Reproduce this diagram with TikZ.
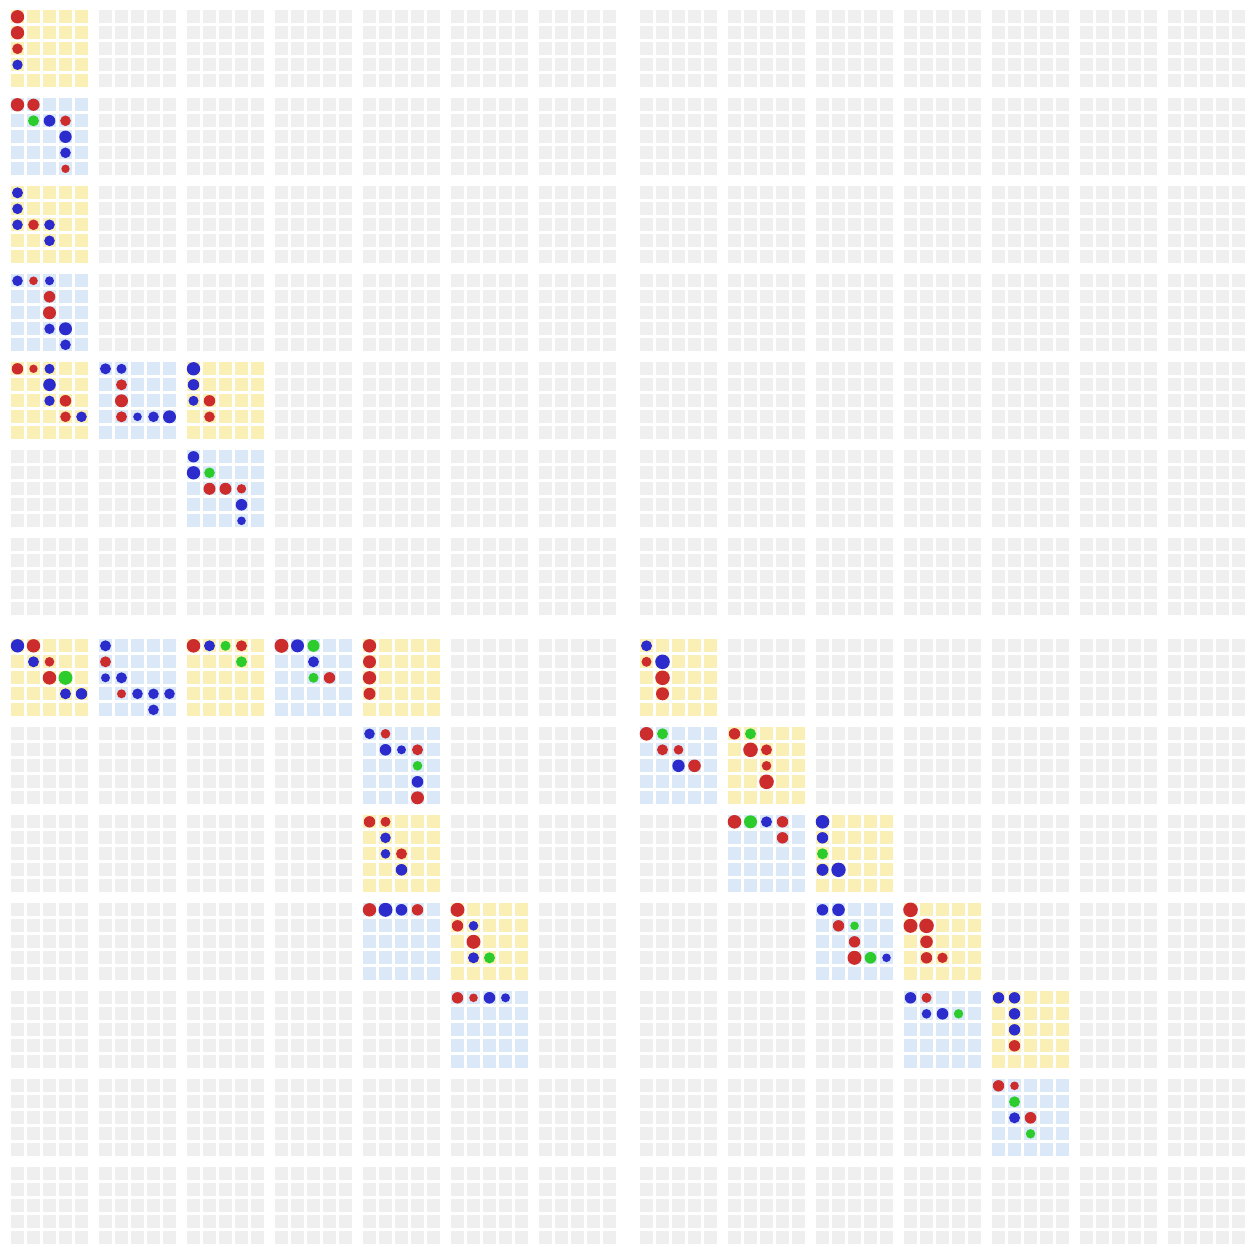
\documentclass[tikz,border=0pt]{standalone}
\usepackage{tikz}
\definecolor{gcell}{RGB}{239,239,239}
\definecolor{ycell}{RGB}{250,240,182}
\definecolor{bcell}{RGB}{218,232,248}
\definecolor{R}{RGB}{204,44,44}
\definecolor{B}{RGB}{44,44,204}
\definecolor{G}{RGB}{44,204,44}
\tikzset{
  graycell/.style={fill=gcell},
  yellowcell/.style={fill=ycell},
  bluecell/.style={fill=bcell},
}
\newcommand\blockorigin[2]{%
  \pgfmathsetmacro\bx{11+88*#2+13*(#2>6)}%
  \pgfmathsetmacro\by{10.3+88*#1+13*(#1>6)}%
}
\newcommand\mkcells[3]{%
  \blockorigin{#1}{#2}%
  \foreach \ci in {0,...,4}{\foreach \cj in {0,...,4}{\path[#3] (\bx+16*\ci,\by+16*\cj) rectangle ++(13,13);}}%
}
\newcommand\mkdots[3]{%
  \blockorigin{#1}{#2}%
  \foreach \di/\dj/\dcol/\drad in {#3}{\fill[\dcol] (\bx+16*\di+6.5,\by+16*\dj+6.5) circle[radius=\drad*0.5pt];}%
}
\newcommand\yblock[3]{\mkcells{#1}{#2}{yellowcell}\mkdots{#1}{#2}{#3}}
\newcommand\bblock[3]{\mkcells{#1}{#2}{bluecell}\mkdots{#1}{#2}{#3}}
\begin{document}
\begin{tikzpicture}[x=0.5pt,y=-0.5pt]
\fill[white] (0,0) rectangle (1256,1256);
\useasboundingbox (0,0) rectangle (1256,1256);
\foreach \rr in {0,...,13}{\foreach \cc in {0,...,13}{\mkcells{\rr}{\cc}{graycell}}}
% left column blocks
\yblock{0}{0}{0/0/R/6.7, 0/1/R/6.7, 0/2/R/5.3, 0/3/B/5.2}
\bblock{1}{0}{0/0/R/6.7, 1/0/R/6.1, 1/1/G/5.5, 2/1/B/5.8, 3/1/R/5.3, 3/2/B/6.2, 3/3/B/5.3, 3/4/R/4.2}
\yblock{2}{0}{0/0/B/5.5, 0/1/B/5.3, 0/2/B/5.3, 1/2/R/5.3, 2/2/B/5.3, 2/3/B/5.3}
\bblock{3}{0}{0/0/B/5.3, 1/0/R/4.3, 2/0/B/4.5, 2/1/R/5.8, 2/2/R/6.5, 2/3/B/5.2, 3/3/B/6.5, 3/4/B/5.3}
\yblock{4}{0}{0/0/R/5.7, 1/0/R/4.2, 2/0/B/5.0, 2/1/B/6.3, 2/2/B/5.2, 3/2/R/5.8, 3/3/R/5.3, 4/3/B/5.3}
\bblock{4}{1}{0/0/B/5.5, 1/0/B/5.0, 1/1/R/5.5, 1/2/R/6.5, 1/3/R/5.5, 2/3/B/4.3, 3/3/B/5.3, 4/3/B/6.5}
\yblock{4}{2}{0/0/B/6.7, 0/1/B/5.7, 0/2/B/5.0, 1/2/R/5.7, 1/3/R/5.3}
\bblock{5}{2}{0/0/B/5.7, 0/1/B/6.7, 1/1/G/5.3, 1/2/R/6.0, 2/2/R/6.0, 3/2/R/4.7, 3/3/B/5.8, 3/4/B/4.3}
% lower left
\yblock{7}{0}{0/0/B/6.7, 1/0/R/6.7, 1/1/B/5.5, 2/1/R/4.8, 2/2/R/6.8, 3/2/G/7.0, 3/3/B/5.5, 4/3/B/5.7}
\bblock{7}{1}{0/0/B/5.5, 0/1/R/5.5, 0/2/B/4.5, 1/2/B/5.5, 1/3/R/4.5, 2/3/B/5.3, 3/3/B/5.3, 4/3/B/5.3, 3/4/B/5.3}
\yblock{7}{2}{0/0/R/6.8, 1/0/B/5.5, 2/0/G/5.0, 3/0/R/5.5, 3/1/G/5.5}
\bblock{7}{3}{0/0/R/7.0, 1/0/B/6.5, 2/0/G/6.0, 2/1/B/5.5, 2/2/G/5.0, 3/2/R/5.7}
\yblock{7}{4}{0/0/R/6.7, 0/1/R/6.5, 0/2/R/6.7, 0/3/R/6.0}
\bblock{8}{4}{0/0/B/5.3, 1/0/R/4.8, 1/1/B/5.8, 2/1/B/4.5, 3/1/R/5.5, 3/2/G/4.8, 3/3/B/5.8, 3/4/R/6.5}
\yblock{9}{4}{0/0/R/5.7, 1/0/R/5.0, 1/1/B/5.3, 1/2/B/4.8, 2/2/R/5.5, 2/3/B/5.8}
\bblock{10}{4}{0/0/R/6.7, 1/0/B/7.0, 2/0/B/5.8, 3/0/R/5.7}
\yblock{10}{5}{0/0/R/7.0, 0/1/R/5.7, 1/1/B/4.8, 1/2/R/7.0, 1/3/B/5.5, 2/3/G/5.5}
\bblock{11}{5}{0/0/R/5.7, 1/0/R/4.3, 2/0/B/5.8, 3/0/B/4.5}
% lower right
\yblock{7}{7}{0/0/B/5.5, 0/1/R/5.0, 1/1/B/7.3, 1/2/R/7.3, 1/3/R/6.5}
\bblock{8}{7}{0/0/R/6.8, 1/0/G/5.5, 1/1/R/5.5, 2/1/R/4.8, 2/2/B/6.2, 3/2/R/6.3}
\yblock{8}{8}{0/0/R/5.7, 1/0/G/5.5, 1/1/R/7.3, 2/1/R/5.5, 2/2/R/4.8, 2/3/R/7.3}
\bblock{9}{8}{0/0/R/6.8, 1/0/G/6.5, 2/0/B/5.5, 3/0/R/5.7, 3/1/R/5.7}
\yblock{9}{9}{0/0/B/6.8, 0/1/B/5.7, 0/2/G/5.5, 0/3/B/6.0, 1/3/B/7.2}
\bblock{10}{9}{0/0/B/5.7, 1/0/B/6.3, 1/1/R/5.7, 2/1/G/4.3, 2/2/R/5.7, 2/3/R/7.0, 3/3/G/5.8, 4/3/B/4.3}
\yblock{10}{10}{0/0/R/7.3, 0/1/R/7.0, 1/1/R/7.3, 1/2/R/6.3, 1/3/R/5.7, 2/3/R/5.2}
\bblock{11}{10}{0/0/B/5.7, 1/0/R/5.0, 1/1/B/4.8, 2/1/B/5.8, 3/1/G/4.7}
\yblock{11}{11}{0/0/B/5.7, 1/0/B/5.7, 1/1/B/5.7, 1/2/B/5.7, 1/3/R/5.7}
\bblock{12}{11}{0/0/R/5.7, 1/0/R/4.3, 1/1/G/5.5, 1/2/B/5.5, 2/2/R/5.8, 2/3/G/4.7}
\end{tikzpicture}
\end{document}
